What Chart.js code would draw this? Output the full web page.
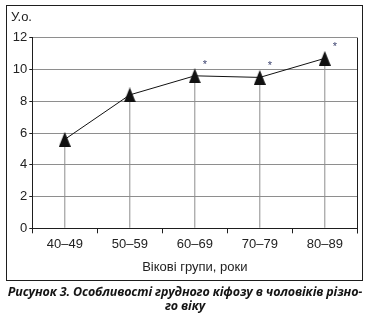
<!DOCTYPE html>
<html lang="uk">
<head>
<meta charset="utf-8">
<title>Особливості грудного кіфозу</title>
<script src="https://cdn.jsdelivr.net/npm/chart.js@4/dist/chart.umd.min.js"></script>
<style>
  html, body { margin: 0; padding: 0; background: #fff; }
  body { width: 370px; height: 327px; position: relative; overflow: hidden; }
  #wrap { position: absolute; left: 0; top: 0; width: 370px; height: 286px; }
  #frame { position: absolute; left: 6px; top: 5px; width: 357px; height: 276px;
           border: 1.5px solid #1e1e1e; box-sizing: border-box; pointer-events: none; }
  #unit { position: absolute; left: 11px; top: 9px; font: 13px "Liberation Sans", Arial, sans-serif;
          color: #222; line-height: 15px; }
  #caption { position: absolute; left: 0; top: 285px; width: 370px; text-align: center;
             font: italic 700 12.5px "Open Sans", "Noto Sans", sans-serif; line-height: 14px;
             color: #151515; letter-spacing: -0.15px; }
</style>
</head>
<body>
<div id="wrap"><canvas id="chart" width="370" height="286"></canvas></div>
<div id="frame"></div>
<div id="unit">У.о.</div>
<div id="caption">Рисунок 3. Особливості грудного кіфозу в чоловіків різно-<br>го віку</div>
<script>
// Age groups and mean thoracic kyphosis score (conventional units)
const ageGroups = ['40–49', '50–59', '60–69', '70–79', '80–89'];
const kyphosisScore = [5.6, 8.4, 9.6, 9.5, 10.7];
// Significance marks shown next to each point
const significance = ['', '', '*', '*', '*'];
const yTicks = [0, 2, 4, 6, 8, 10, 12];

const FONT = '"Liberation Sans", Arial, sans-serif';
const TEXT = '#222';
const GRID = '#8e8e8e';
const AXIS = '#1e1e1e';

// Filled upright triangle used as the point marker
function triangleMarker(w, h) {
  const c = document.createElement('canvas');
  c.width = w; c.height = h;
  const g = c.getContext('2d');
  g.fillStyle = '#111';
  g.beginPath();
  g.moveTo(w / 2, 0);
  g.lineTo(w, h);
  g.lineTo(0, h);
  g.closePath();
  g.fill();
  return c;
}
const marker = triangleMarker(12, 15);

// Right edge of the plot frame, running down to the tick row
const plotFrame = {
  id: 'plotFrame',
  afterDraw(chart) {
    const { ctx, chartArea } = chart;
    const x = Math.round(chartArea.right) + 0.5;
    ctx.save();
    ctx.strokeStyle = AXIS;
    ctx.lineWidth = 1;
    ctx.beginPath();
    ctx.moveTo(x, chartArea.top);
    ctx.lineTo(x, chartArea.bottom + 5);
    ctx.stroke();
    ctx.restore();
  }
};

// Asterisks beside the points that differ significantly
const sigMarks = {
  id: 'sigMarks',
  afterDatasetsDraw(chart) {
    const { ctx, scales } = chart;
    ctx.save();
    ctx.fillStyle = '#3d4470';
    ctx.font = '11px ' + FONT;
    ctx.textAlign = 'center';
    ctx.textBaseline = 'middle';
    kyphosisScore.forEach((v, i) => {
      if (!significance[i]) return;
      const x = scales.x.getPixelForValue(i);
      const y = scales.y.getPixelForValue(v);
      ctx.fillText(significance[i], x + 10, y - 11);
    });
    ctx.restore();
  }
};

new Chart(document.getElementById('chart'), {
  type: 'bar',
  data: {
    labels: ageGroups,
    datasets: [
      {
        type: 'line',
        data: kyphosisScore,
        borderColor: '#111',
        borderWidth: 1,
        tension: 0,
        pointStyle: marker,
        pointRadius: 7,
        order: 0
      },
      {
        // drop lines from each point to the axis
        type: 'bar',
        data: kyphosisScore,
        backgroundColor: GRID,
        borderWidth: 0,
        inflateAmount: 0,
        barThickness: 1,
        order: 1
      }
    ]
  },
  options: {
    responsive: false,
    animation: false,
    devicePixelRatio: 1,
    layout: { padding: { left: 0, right: 12.7, top: 37.7, bottom: 0 } },
    plugins: { legend: { display: false }, tooltip: { enabled: false } },
    scales: {
      x: {
        offset: true,
        grid: { offset: true, drawOnChartArea: false, tickLength: 5, tickColor: AXIS, lineWidth: 1 },
        border: { color: AXIS, width: 1 },
        ticks: { color: TEXT, font: { family: FONT, size: 13 }, padding: 3, maxRotation: 0 },
        title: { display: true, text: 'Вікові групи, роки', color: TEXT,
                 font: { family: FONT, size: 13 }, padding: { top: 0, bottom: 11 } },
        afterFit(scale) { scale.height = 57.7; }
      },
      y: {
        min: 0,
        max: 12,
        afterBuildTicks(scale) { scale.ticks = yTicks.map(v => ({ value: v })); },
        grid: { color: GRID, tickColor: AXIS, tickLength: 3, lineWidth: 1 },
        border: { color: AXIS, width: 1 },
        ticks: { color: TEXT, font: { family: FONT, size: 13 }, padding: 2 },
        afterFit(scale) { scale.width = 32.3; }
      }
    }
  },
  plugins: [plotFrame, sigMarks]
});
</script>
</body>
</html>
